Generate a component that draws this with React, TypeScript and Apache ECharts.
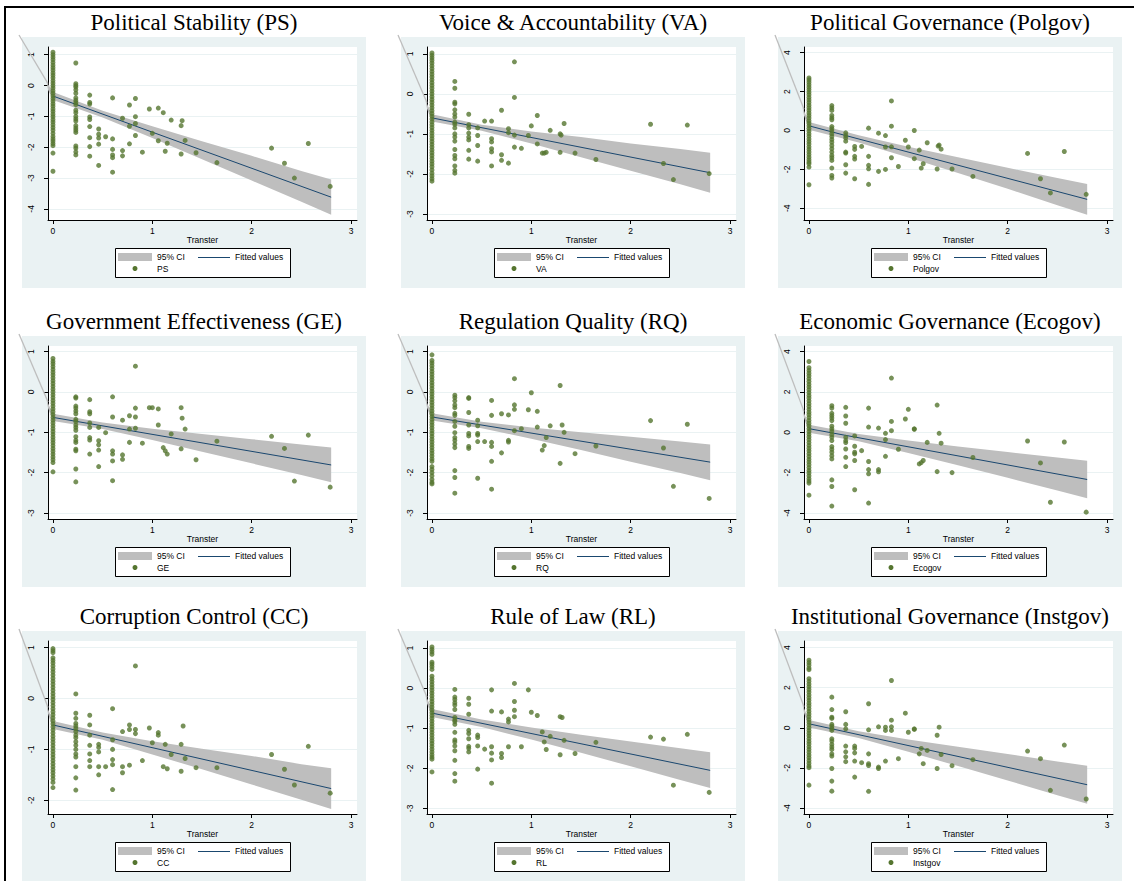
import React, { useEffect, useRef } from "react";
import * as echarts from "echarts";

const panelTitles = [
  "Political Stability (PS)",
  "Voice & Accountability (VA)",
  "Political Governance (Polgov)",
  "Government Effectiveness (GE)",
  "Regulation Quality (RQ)",
  "Economic Governance (Ecogov)",
  "Corruption Control (CC)",
  "Rule of Law (RL)",
  "Institutional Governance (Instgov)",
];
const varNames = ["PS", "VA", "Polgov", "GE", "RQ", "Ecogov", "CC", "RL", "Instgov"];
const xTicks = [0, 1, 2, 3];
const xTitle = "Transter";
const legendCI = "95% CI";
const legendFit = "Fitted values";

const yTicks = [
  [-4, -3, -2, -1, 0, 1],
  [-3, -2, -1, 0, 1],
  [-4, -2, 0, 2, 4],
  [-3, -2, -1, 0, 1],
  [-3, -2, -1, 0, 1],
  [-4, -2, 0, 2, 4],
  [-2, -1, 0, 1],
  [-3, -2, -1, 0, 1],
  [-4, -2, 0, 2, 4],
];
const yMin = [-4.36, -3.15, -4.6, -3.15, -3.15, -4.3, -2.27, -3.14, -4.3];
const yMax = [1.25, 1.17, 4.29, 1.14, 1.14, 4.28, 1.13, 1.18, 4.33];

// fitted line endpoints and CI bounds
const fitX = [0, 2.8];
const ciX = [0, 0.5, 1, 1.5, 2, 2.5, 2.8];

const psFit = [-0.34, -3.62];
const psCiUp = [-0.21, -0.82, -1.32, -1.81, -2.28, -2.77, -3.05];
const psCiLo = [-0.47, -1.04, -1.7, -2.39, -3.08, -3.77, -4.19];
const vaFit = [-0.6, -1.97];
const vaCiUp = [-0.51, -0.77, -0.94, -1.08, -1.24, -1.38, -1.47];
const vaCiLo = [-0.69, -0.92, -1.24, -1.58, -1.92, -2.26, -2.47];
const polFit = [0.24, -3.54];
const polCiUp = [0.44, -0.25, -0.83, -1.38, -1.92, -2.44, -2.75];
const polCiLo = [0.04, -0.62, -1.39, -2.19, -3.0, -3.84, -4.33];
const geFit = [-0.63, -1.81];
const geCiUp = [-0.54, -0.76, -0.91, -1.04, -1.17, -1.3, -1.38];
const geCiLo = [-0.72, -0.92, -1.19, -1.48, -1.77, -2.06, -2.24];
const rqFit = [-0.62, -1.74];
const rqCiUp = [-0.53, -0.74, -0.88, -1.0, -1.11, -1.23, -1.3];
const rqCiLo = [-0.71, -0.9, -1.16, -1.44, -1.73, -2.01, -2.19];
const ecoFit = [0.18, -2.34];
const ecoCiUp = [0.38, -0.09, -0.41, -0.7, -0.98, -1.25, -1.41];
const ecoCiLo = [-0.02, -0.45, -1.03, -1.64, -2.26, -2.89, -3.27];
const ccFit = [-0.52, -1.77];
const ccCiUp = [-0.44, -0.67, -0.84, -0.99, -1.13, -1.29, -1.37];
const ccCiLo = [-0.6, -0.81, -1.1, -1.39, -1.69, -1.99, -2.17];
const rlFit = [-0.62, -2.05];
const rlCiUp = [-0.52, -0.78, -0.98, -1.16, -1.33, -1.5, -1.6];
const rlCiLo = [-0.72, -0.97, -1.28, -1.61, -1.95, -2.29, -2.49];
const instFit = [0.2, -2.84];
const instCiUp = [0.39, -0.17, -0.58, -0.95, -1.31, -1.68, -1.89];
const instCiLo = [0.01, -0.51, -1.2, -1.91, -2.63, -3.36, -3.79];

// observations with Transter = 0
const psZero = [1.08, 1.0, 0.92, 0.84, 0.75, 0.66, 0.58, 0.5, 0.41, 0.33, 0.25, 0.16, 0.08, 0.0, -0.08, -0.17, -0.25, -0.34, -0.42, -0.5, -0.59, -0.67, -0.76, -0.84, -0.93, -1.01, -1.1, -1.18, -1.27, -1.36, -1.45, -1.55, -1.65, -1.73, -1.8, -1.88, -1.95, -2.19, -2.78];
const vaZero = [1.02, 0.96, 0.9, 0.84, 0.77, 0.7, 0.63, 0.56, 0.49, 0.42, 0.35, 0.28, 0.21, 0.14, 0.07, 0.0, -0.07, -0.14, -0.21, -0.28, -0.35, -0.42, -0.49, -0.56, -0.63, -0.7, -0.77, -0.84, -0.91, -0.98, -1.05, -1.12, -1.19, -1.26, -1.33, -1.4, -1.47, -1.54, -1.61, -1.68, -1.75, -1.82, -1.9, -1.98, -2.05, -2.12, -2.18];
const polZero = [2.7, 2.6, 2.48, 2.35, 2.22, 2.1, 1.97, 1.84, 1.7, 1.57, 1.44, 1.3, 1.17, 1.04, 0.9, 0.77, 0.64, 0.5, 0.37, 0.24, 0.1, -0.03, -0.17, -0.3, -0.44, -0.57, -0.7, -0.84, -0.97, -1.1, -1.24, -1.37, -1.5, -1.62, -1.71, -1.88, -2.79];
const geZero = [0.83, 0.76, 0.7, 0.63, 0.56, 0.49, 0.42, 0.35, 0.28, 0.21, 0.14, 0.07, 0.0, -0.07, -0.14, -0.21, -0.28, -0.35, -0.42, -0.49, -0.56, -0.63, -0.7, -0.77, -0.84, -0.91, -0.98, -1.05, -1.12, -1.19, -1.26, -1.33, -1.4, -1.47, -1.54, -1.61, -1.68, -1.75, -1.98];
const rqZero = [0.92, 0.78, 0.72, 0.65, 0.58, 0.51, 0.44, 0.37, 0.3, 0.23, 0.16, 0.09, 0.02, -0.05, -0.12, -0.19, -0.26, -0.33, -0.4, -0.47, -0.54, -0.61, -0.68, -0.75, -0.82, -0.89, -0.96, -1.03, -1.1, -1.17, -1.24, -1.31, -1.38, -1.45, -1.52, -1.59, -1.66, -1.72, -1.85, -1.92, -2.0, -2.08, -2.17, -2.24, -2.28];
const ecoZero = [3.51, 3.2, 3.07, 2.93, 2.8, 2.66, 2.52, 2.38, 2.25, 2.11, 1.97, 1.83, 1.7, 1.56, 1.42, 1.28, 1.14, 1.0, 0.87, 0.73, 0.59, 0.45, 0.32, 0.18, 0.04, -0.1, -0.23, -0.37, -0.51, -0.65, -0.79, -0.92, -1.06, -1.2, -1.34, -1.47, -1.61, -1.75, -1.89, -2.02, -2.16, -2.3, -2.42, -2.52, -3.12];
const ccZero = [0.98, 0.94, 0.9, 0.8, 0.75, 0.7, 0.64, 0.58, 0.52, 0.46, 0.4, 0.34, 0.28, 0.22, 0.16, 0.1, 0.04, -0.02, -0.08, -0.14, -0.2, -0.26, -0.32, -0.38, -0.44, -0.5, -0.56, -0.62, -0.68, -0.74, -0.8, -0.86, -0.92, -0.98, -1.04, -1.1, -1.16, -1.22, -1.28, -1.34, -1.4, -1.46, -1.52, -1.58, -1.65, -1.75];
const rlZero = [1.03, 0.97, 0.91, 0.85, 0.65, 0.6, 0.54, 0.47, 0.3, 0.23, 0.16, 0.09, 0.02, -0.05, -0.12, -0.19, -0.26, -0.33, -0.4, -0.47, -0.54, -0.61, -0.68, -0.75, -0.82, -0.89, -0.96, -1.03, -1.1, -1.17, -1.24, -1.31, -1.38, -1.45, -1.52, -1.59, -1.66, -1.72, -1.77, -2.09];
const instZero = [3.37, 3.25, 3.12, 2.98, 2.9, 2.45, 2.32, 2.18, 2.05, 1.91, 1.78, 1.64, 1.5, 1.37, 1.23, 1.1, 0.96, 0.82, 0.69, 0.55, 0.41, 0.28, 0.14, 0.0, -0.13, -0.27, -0.4, -0.54, -0.68, -0.81, -0.95, -1.08, -1.22, -1.36, -1.49, -1.63, -1.77, -1.9, -1.99, -2.86];

// observations with Transter > 0 : [Transter, value]
const psPts = [[0.23,0.73],[0.23,0.06],[0.23,0.0],[0.23,-0.05],[0.23,-0.14],[0.23,-0.25],[0.23,-0.4],[0.23,-0.48],[0.23,-0.55],[0.23,-0.62],[0.23,-0.8],[0.23,-0.88],[0.23,-1.0],[0.23,-1.08],[0.23,-1.15],[0.23,-1.3],[0.23,-1.38],[0.23,-1.45],[0.23,-1.52],[0.23,-1.96],[0.23,-2.03],[0.23,-2.15],[0.23,-2.25],[0.37,-0.31],[0.37,-0.55],[0.37,-0.6],[0.37,-1.02],[0.37,-1.1],[0.37,-1.33],[0.37,-1.69],[0.37,-1.98],[0.37,-2.29],[0.46,-1.41],[0.46,-1.58],[0.46,-1.7],[0.46,-1.9],[0.46,-2.59],[0.53,-1.66],[0.6,-0.4],[0.6,-1.73],[0.6,-2.07],[0.6,-2.25],[0.6,-2.34],[0.6,-2.81],[0.7,-1.06],[0.7,-2.11],[0.7,-2.28],[0.77,-0.63],[0.77,-1.32],[0.77,-1.89],[0.83,-0.42],[0.83,-1.01],[0.83,-1.23],[0.83,-1.62],[0.9,-2.16],[0.97,-0.76],[1.0,-1.55],[1.06,-0.73],[1.06,-1.79],[1.11,-0.88],[1.13,-2.13],[1.15,-1.87],[1.19,-1.12],[1.29,-1.3],[1.29,-2.22],[1.3,-1.14],[1.33,-1.78],[1.44,-2.18],[1.65,-2.5],[2.2,-2.03],[2.33,-2.52],[2.43,-3.0],[2.57,-1.88],[2.79,-3.27]];
const vaPts = [[0.23,0.31],[0.23,0.14],[0.23,-0.21],[0.23,-0.25],[0.23,-0.4],[0.23,-0.5],[0.23,-0.58],[0.23,-0.71],[0.23,-0.76],[0.23,-0.85],[0.23,-1.0],[0.23,-1.08],[0.23,-1.18],[0.23,-1.39],[0.23,-1.54],[0.23,-1.62],[0.23,-1.8],[0.23,-1.91],[0.23,-1.98],[0.37,-0.51],[0.37,-0.77],[0.37,-0.85],[0.37,-0.98],[0.37,-1.08],[0.37,-1.15],[0.37,-1.41],[0.37,-1.63],[0.46,-0.85],[0.46,-1.04],[0.46,-1.29],[0.46,-1.68],[0.53,-0.68],[0.6,-0.68],[0.6,-1.12],[0.6,-1.2],[0.6,-1.37],[0.6,-1.45],[0.6,-1.8],[0.7,-0.41],[0.7,-1.52],[0.7,-1.66],[0.77,-0.87],[0.77,-0.97],[0.77,-1.73],[0.83,0.8],[0.83,-0.09],[0.83,-1.03],[0.83,-1.33],[0.9,-1.36],[0.97,-1.04],[1.0,-0.8],[1.06,-0.54],[1.06,-1.25],[1.11,-1.48],[1.13,-1.48],[1.15,-1.46],[1.19,-0.91],[1.29,-1.0],[1.29,-1.46],[1.3,-1.03],[1.33,-0.74],[1.44,-1.48],[1.65,-1.64],[2.2,-0.76],[2.33,-1.74],[2.43,-2.14],[2.57,-0.78],[2.79,-1.99]];
const polPts = [[0.23,1.28],[0.23,1.16],[0.23,1.03],[0.23,0.77],[0.23,0.65],[0.23,0.55],[0.23,0.2],[0.23,0.09],[0.23,-0.03],[0.23,-0.17],[0.23,-0.31],[0.23,-0.46],[0.23,-0.6],[0.23,-0.77],[0.23,-0.94],[0.23,-1.11],[0.23,-1.28],[0.23,-1.4],[0.23,-1.54],[0.23,-1.93],[0.23,-2.31],[0.23,-2.44],[0.37,-0.12],[0.37,-0.26],[0.37,-0.38],[0.37,-0.55],[0.37,-1.11],[0.37,-1.16],[0.37,-1.76],[0.37,-2.19],[0.46,-0.82],[0.46,-0.97],[0.46,-1.33],[0.46,-1.47],[0.46,-2.48],[0.53,-0.82],[0.6,0.12],[0.6,-1.33],[0.6,-1.79],[0.6,-1.97],[0.6,-2.77],[0.7,-0.14],[0.7,-2.1],[0.77,-0.26],[0.77,-0.85],[0.77,-2.0],[0.83,1.52],[0.83,0.22],[0.83,-0.84],[0.83,-1.4],[0.9,-1.85],[0.97,-0.5],[1.0,-0.85],[1.06,0.0],[1.06,-1.45],[1.11,-1.01],[1.13,-1.93],[1.15,-1.71],[1.19,-0.63],[1.29,-1.98],[1.3,-0.8],[1.31,-0.75],[1.33,-0.96],[1.44,-1.98],[1.65,-2.36],[2.2,-1.18],[2.33,-2.48],[2.43,-3.21],[2.57,-1.08],[2.79,-3.28]];
const gePts = [[0.23,-0.12],[0.23,-0.15],[0.23,-0.35],[0.23,-0.4],[0.23,-0.47],[0.23,-0.54],[0.23,-0.68],[0.23,-0.73],[0.23,-0.82],[0.23,-0.88],[0.23,-0.95],[0.23,-1.11],[0.23,-1.2],[0.23,-1.25],[0.23,-1.42],[0.23,-1.46],[0.23,-1.91],[0.23,-2.23],[0.37,-0.19],[0.37,-0.49],[0.37,-0.54],[0.37,-0.77],[0.37,-0.88],[0.37,-1.13],[0.37,-1.19],[0.37,-1.54],[0.46,-0.88],[0.46,-1.21],[0.46,-1.31],[0.46,-1.44],[0.46,-1.85],[0.53,-1.01],[0.6,-0.12],[0.6,-0.62],[0.6,-1.46],[0.6,-1.54],[0.6,-1.71],[0.6,-2.2],[0.7,-0.7],[0.7,-1.56],[0.7,-1.67],[0.77,-0.59],[0.77,-0.92],[0.77,-1.25],[0.83,0.64],[0.83,-0.4],[0.83,-0.62],[0.83,-0.9],[0.9,-1.27],[0.97,-0.39],[1.0,-0.39],[1.06,-0.42],[1.06,-0.82],[1.11,-1.38],[1.13,-1.46],[1.15,-1.54],[1.19,-1.04],[1.29,-0.39],[1.29,-1.41],[1.3,-0.65],[1.33,-0.92],[1.44,-1.68],[1.65,-1.22],[2.2,-1.1],[2.33,-1.4],[2.43,-2.21],[2.57,-1.07],[2.79,-2.36]];
const rqPts = [[0.23,-0.08],[0.23,-0.14],[0.23,-0.22],[0.23,-0.32],[0.23,-0.39],[0.23,-0.53],[0.23,-0.58],[0.23,-0.73],[0.23,-0.85],[0.23,-1.01],[0.23,-1.13],[0.23,-1.2],[0.23,-1.29],[0.23,-1.38],[0.23,-1.95],[0.23,-2.12],[0.23,-2.51],[0.37,-0.14],[0.37,-0.16],[0.37,-0.51],[0.37,-0.82],[0.37,-1.03],[0.37,-1.09],[0.37,-1.35],[0.37,-1.4],[0.46,-0.7],[0.46,-0.84],[0.46,-1.03],[0.46,-1.07],[0.46,-1.23],[0.46,-2.14],[0.53,-1.23],[0.6,-0.21],[0.6,-0.58],[0.6,-1.25],[0.6,-1.35],[0.6,-1.72],[0.6,-2.41],[0.7,-0.54],[0.7,-1.51],[0.77,-0.57],[0.77,-1.2],[0.77,-1.24],[0.83,0.33],[0.83,-0.32],[0.83,-0.43],[0.83,-0.96],[0.9,-0.91],[0.97,-0.44],[1.0,-0.02],[1.06,-0.48],[1.06,-0.87],[1.11,-1.44],[1.13,-1.33],[1.15,-1.13],[1.19,-0.84],[1.29,0.16],[1.29,-1.77],[1.31,-0.82],[1.33,-1.0],[1.44,-1.53],[1.65,-1.34],[2.2,-0.71],[2.33,-1.39],[2.43,-2.34],[2.57,-0.8],[2.79,-2.64]];
const ecoPts = [[0.23,1.32],[0.23,1.2],[0.23,0.94],[0.23,0.83],[0.23,0.71],[0.23,0.58],[0.23,0.3],[0.23,0.17],[0.23,0.05],[0.23,-0.12],[0.23,-0.25],[0.23,-0.41],[0.23,-0.71],[0.23,-0.84],[0.23,-0.99],[0.23,-1.16],[0.23,-1.32],[0.23,-2.36],[0.23,-2.69],[0.23,-3.66],[0.37,1.24],[0.37,0.81],[0.37,0.45],[0.37,-0.25],[0.37,-0.41],[0.37,-0.51],[0.37,-0.83],[0.37,-1.24],[0.37,-1.7],[0.46,-0.18],[0.46,-0.69],[0.46,-0.99],[0.46,-1.07],[0.46,-1.4],[0.46,-2.85],[0.53,-0.91],[0.6,1.2],[0.6,0.26],[0.6,-1.45],[0.6,-1.85],[0.6,-2.06],[0.6,-3.51],[0.7,0.21],[0.7,-1.85],[0.7,-1.96],[0.77,-0.05],[0.77,-0.36],[0.77,-1.19],[0.83,2.69],[0.83,0.54],[0.83,0.08],[0.9,-0.84],[0.97,0.66],[1.0,1.14],[1.06,0.17],[1.06,0.15],[1.11,-1.57],[1.13,-1.5],[1.15,-1.4],[1.19,-0.5],[1.29,1.35],[1.29,-1.95],[1.31,-0.05],[1.33,-0.54],[1.44,-2.0],[1.65,-1.25],[2.2,-0.43],[2.33,-1.52],[2.43,-3.47],[2.57,-0.48],[2.79,-3.96]];
const ccPts = [[0.23,0.09],[0.23,-0.29],[0.23,-0.39],[0.23,-0.49],[0.23,-0.54],[0.23,-0.59],[0.23,-0.65],[0.23,-0.72],[0.23,-0.77],[0.23,-0.85],[0.23,-0.92],[0.23,-1.0],[0.23,-1.09],[0.23,-1.15],[0.23,-1.34],[0.23,-1.56],[0.23,-1.8],[0.37,-0.33],[0.37,-0.52],[0.37,-0.72],[0.37,-0.92],[0.37,-1.09],[0.37,-1.22],[0.37,-1.34],[0.46,-0.9],[0.46,-0.96],[0.46,-1.05],[0.46,-1.34],[0.46,-1.5],[0.53,-1.34],[0.6,-0.2],[0.6,-0.81],[0.6,-1.0],[0.6,-1.2],[0.6,-1.3],[0.6,-1.79],[0.7,-0.65],[0.7,-1.34],[0.7,-1.46],[0.77,-0.52],[0.77,-0.61],[0.77,-1.31],[0.83,0.64],[0.83,-0.61],[0.83,-0.69],[0.9,-1.22],[0.97,-0.58],[1.0,-0.87],[1.06,-0.67],[1.06,-0.72],[1.11,-1.34],[1.13,-0.9],[1.15,-1.38],[1.19,-1.1],[1.29,-0.9],[1.29,-1.43],[1.31,-0.54],[1.33,-1.18],[1.44,-1.36],[1.65,-1.36],[2.2,-1.1],[2.33,-1.39],[2.43,-1.7],[2.57,-0.94],[2.79,-1.86]];
const rlPts = [[0.23,-0.03],[0.23,-0.22],[0.23,-0.28],[0.23,-0.36],[0.23,-0.42],[0.23,-0.53],[0.23,-0.73],[0.23,-0.79],[0.23,-0.83],[0.23,-0.9],[0.23,-1.1],[0.23,-1.29],[0.23,-1.34],[0.23,-1.44],[0.23,-1.56],[0.23,-1.8],[0.23,-2.13],[0.23,-2.32],[0.37,-0.25],[0.37,-0.4],[0.37,-0.65],[0.37,-1.05],[0.37,-1.13],[0.37,-1.26],[0.37,-1.45],[0.37,-1.5],[0.37,-1.59],[0.46,-1.17],[0.46,-1.23],[0.46,-1.44],[0.46,-2.02],[0.53,-1.52],[0.6,-0.04],[0.6,-0.57],[0.6,-1.46],[0.6,-1.62],[0.6,-1.79],[0.6,-2.37],[0.7,-0.59],[0.7,-1.63],[0.7,-1.73],[0.77,-0.77],[0.77,-0.84],[0.77,-1.46],[0.83,0.12],[0.83,-0.33],[0.83,-0.55],[0.83,-0.71],[0.9,-1.46],[0.97,-0.04],[1.0,-0.6],[1.06,-0.68],[1.11,-1.09],[1.13,-1.34],[1.15,-1.53],[1.19,-1.2],[1.29,-0.71],[1.29,-1.66],[1.31,-0.73],[1.33,-1.3],[1.44,-1.63],[1.65,-1.35],[2.2,-1.22],[2.33,-1.27],[2.43,-2.42],[2.57,-1.15],[2.79,-2.6]];
const instPts = [[0.23,1.53],[0.23,0.91],[0.23,0.53],[0.23,0.47],[0.23,0.17],[0.23,0.08],[0.23,-0.03],[0.23,-0.13],[0.23,-0.55],[0.23,-0.66],[0.23,-0.83],[0.23,-0.96],[0.23,-1.08],[0.23,-1.3],[0.23,-1.41],[0.23,-2.03],[0.23,-2.66],[0.23,-3.16],[0.37,0.8],[0.37,0.17],[0.37,-0.05],[0.37,-0.91],[0.37,-1.2],[0.37,-1.45],[0.37,-1.69],[0.46,-0.91],[0.46,-1.03],[0.46,-1.25],[0.46,-1.66],[0.46,-2.46],[0.53,-1.74],[0.6,1.2],[0.6,-0.1],[0.6,-1.3],[0.6,-1.79],[0.6,-1.88],[0.6,-3.17],[0.7,0.05],[0.7,-1.96],[0.7,-2.03],[0.77,0.03],[0.77,-0.13],[0.77,-1.66],[0.83,2.36],[0.83,0.38],[0.83,0.05],[0.83,-0.13],[0.9,-1.54],[0.97,0.73],[1.0,-0.22],[1.06,-0.08],[1.06,-0.05],[1.11,-1.3],[1.13,-1.03],[1.15,-1.79],[1.19,-1.13],[1.29,-0.37],[1.29,-2.03],[1.31,0.03],[1.33,-1.33],[1.44,-1.89],[1.65,-1.59],[2.2,-1.16],[2.33,-1.54],[2.43,-3.12],[2.57,-0.86],[2.79,-3.55]];

const zeros = [psZero, vaZero, polZero, geZero, rqZero, ecoZero, ccZero, rlZero, instZero];
const points = [psPts, vaPts, polPts, gePts, rqPts, ecoPts, ccPts, rlPts, instPts];
const fits = [psFit, vaFit, polFit, geFit, rqFit, ecoFit, ccFit, rlFit, instFit];
const ciUps = [psCiUp, vaCiUp, polCiUp, geCiUp, rqCiUp, ecoCiUp, ccCiUp, rlCiUp, instCiUp];
const ciLos = [psCiLo, vaCiLo, polCiLo, geCiLo, rqCiLo, ecoCiLo, ccCiLo, rlCiLo, instCiLo];

const GREEN = "#55752f";
const NAVY = "#1a476f";
const CI_GREY = "#bebebe";
const BG = "#eaf2f3";
const SANS = "Liberation Sans";
const SERIF = "Liberation Serif";
const colX = [22, 401, 778];
const rowY = [37, 336, 631];
const PW = 344;
const PH = 251;

export default function App() {
  const ref = useRef<HTMLDivElement>(null);
  useEffect(() => {
    document.body.style.overflow = "hidden";
    const chart = echarts.init(ref.current as HTMLDivElement, null, { renderer: "svg" });
    const grid: any[] = [];
    const xAxis: any[] = [];
    const yAxis: any[] = [];
    const series: any[] = [];
    const graphic: any[] = [
      { type: "line", z: 20, shape: { x1: 5, y1: 7, x2: 5, y2: 881 }, style: { stroke: "#000", lineWidth: 2 } },
      { type: "line", z: 20, shape: { x1: 4, y1: 7, x2: 1134, y2: 7 }, style: { stroke: "#000", lineWidth: 2 } },
    ];
    const axisText = { fontFamily: SANS, fontSize: 8.5, color: "#000" };

    for (let i = 0; i < 9; i++) {
      const bx = colX[i % 3];
      const by = rowY[Math.floor(i / 3)];
      graphic.push({ type: "rect", z: -5, silent: true, shape: { x: bx, y: by, width: PW, height: PH }, style: { fill: BG } });
      graphic.push({
        type: "text", z: 10, silent: true,
        style: { text: panelTitles[i], x: bx + 172, y: by - 15, align: "center", verticalAlign: "middle", fontFamily: SERIF, fontSize: 23, fill: "#000" },
      });
      // legend
      graphic.push({ type: "rect", z: 10, silent: true, shape: { x: bx + 93.5, y: by + 211.5, width: 175, height: 29 }, style: { fill: "#fff", stroke: "#000", lineWidth: 1 } });
      graphic.push({ type: "rect", z: 11, silent: true, shape: { x: bx + 96, y: by + 216, width: 34, height: 8 }, style: { fill: CI_GREY } });
      graphic.push({ type: "text", z: 11, silent: true, style: { text: legendCI, x: bx + 135, y: by + 220, verticalAlign: "middle", fontFamily: SANS, fontSize: 8.5, fill: "#000" } });
      graphic.push({ type: "line", z: 11, silent: true, shape: { x1: bx + 176, y1: by + 220.5, x2: bx + 208, y2: by + 220.5 }, style: { stroke: NAVY, lineWidth: 1 } });
      graphic.push({ type: "text", z: 11, silent: true, style: { text: legendFit, x: bx + 213, y: by + 220, verticalAlign: "middle", fontFamily: SANS, fontSize: 8.5, fill: "#000" } });
      graphic.push({ type: "circle", z: 11, silent: true, shape: { cx: bx + 113, cy: by + 231.5, r: 2.5 }, style: { fill: GREEN } });
      graphic.push({ type: "text", z: 11, silent: true, style: { text: varNames[i], x: bx + 135, y: by + 231.5, verticalAlign: "middle", fontFamily: SANS, fontSize: 8.5, fill: "#000" } });

      grid.push({ left: bx + 26, top: by + 10, width: 309, height: 173, show: true, backgroundColor: "#fff", borderWidth: 0 });
      xAxis.push({
        type: "value", gridIndex: i, min: -0.05, max: 3.06,
        name: xTitle, nameLocation: "middle", nameGap: 14, nameTextStyle: axisText,
        axisLine: { onZero: false, lineStyle: { color: "#000", width: 1 } },
        axisTick: { length: 4, customValues: xTicks, lineStyle: { color: "#000" } },
        axisLabel: { customValues: xTicks, margin: 6, ...axisText },
        splitLine: { show: false },
      });
      yAxis.push({
        type: "value", gridIndex: i, min: yMin[i], max: yMax[i],
        axisLine: { show: true, onZero: false, lineStyle: { color: "#000", width: 1 } },
        axisTick: { show: true, length: 4, customValues: yTicks[i], lineStyle: { color: "#000" } },
        axisLabel: { customValues: yTicks[i], rotate: 90, margin: 13, ...axisText },
        splitLine: { show: true, lineStyle: { color: BG, width: 1 } },
      });
      const up = ciUps[i];
      const lo = ciLos[i];
      series.push({
        type: "custom", xAxisIndex: i, yAxisIndex: i, z: 1, silent: true,
        data: [[fitX[0], fits[i][0]]],
        renderItem: (params: any, api: any) => {
          const cs = params.coordSys;
          const upPts = up.map((v, k) => api.coord([ciX[k], v]));
          const loPts = lo.map((v, k) => api.coord([ciX[k], v])).reverse();
          const a = api.coord([ciX[0], up[0]]);
          const b = api.coord([ciX[0], lo[0]]);
          const tip = [cs.x - 29, cs.y - 12];
          const t = (cs.x - tip[0]) / (a[0] - tip[0]);
          const hit = [cs.x, tip[1] + t * (a[1] - tip[1])];
          return {
            type: "group",
            children: [
              { type: "line", shape: { x1: tip[0], y1: tip[1], x2: hit[0], y2: hit[1] }, style: { stroke: CI_GREY, lineWidth: 1.3 } },
              { type: "polygon", shape: { points: [[hit[0] - 1.5, hit[1] - 2], a, b, [hit[0], hit[1] + 6]] }, style: { fill: CI_GREY } },
              { type: "polygon", shape: { points: upPts.concat(loPts) }, style: { fill: CI_GREY } },
            ],
          };
        },
      });
      series.push({
        type: "line", xAxisIndex: i, yAxisIndex: i, z: 2, silent: true, symbol: "none",
        data: fitX.map((x, k) => [x, fits[i][k]]),
        lineStyle: { color: NAVY, width: 1 },
      });
      series.push({
        type: "scatter", xAxisIndex: i, yAxisIndex: i, z: 3, silent: true,
        symbol: "circle", symbolSize: 5,
        itemStyle: { color: GREEN },
        data: zeros[i].map((v) => [0, v]).concat(points[i]),
      });
    }

    chart.setOption({
      animation: false,
      backgroundColor: "#fff",
      grid, xAxis, yAxis, series, graphic,
    });
    return () => chart.dispose();
  }, []);
  return <div ref={ref} style={{ position: "absolute", left: 0, top: 0, width: 1134, height: 881 }} />;
}
